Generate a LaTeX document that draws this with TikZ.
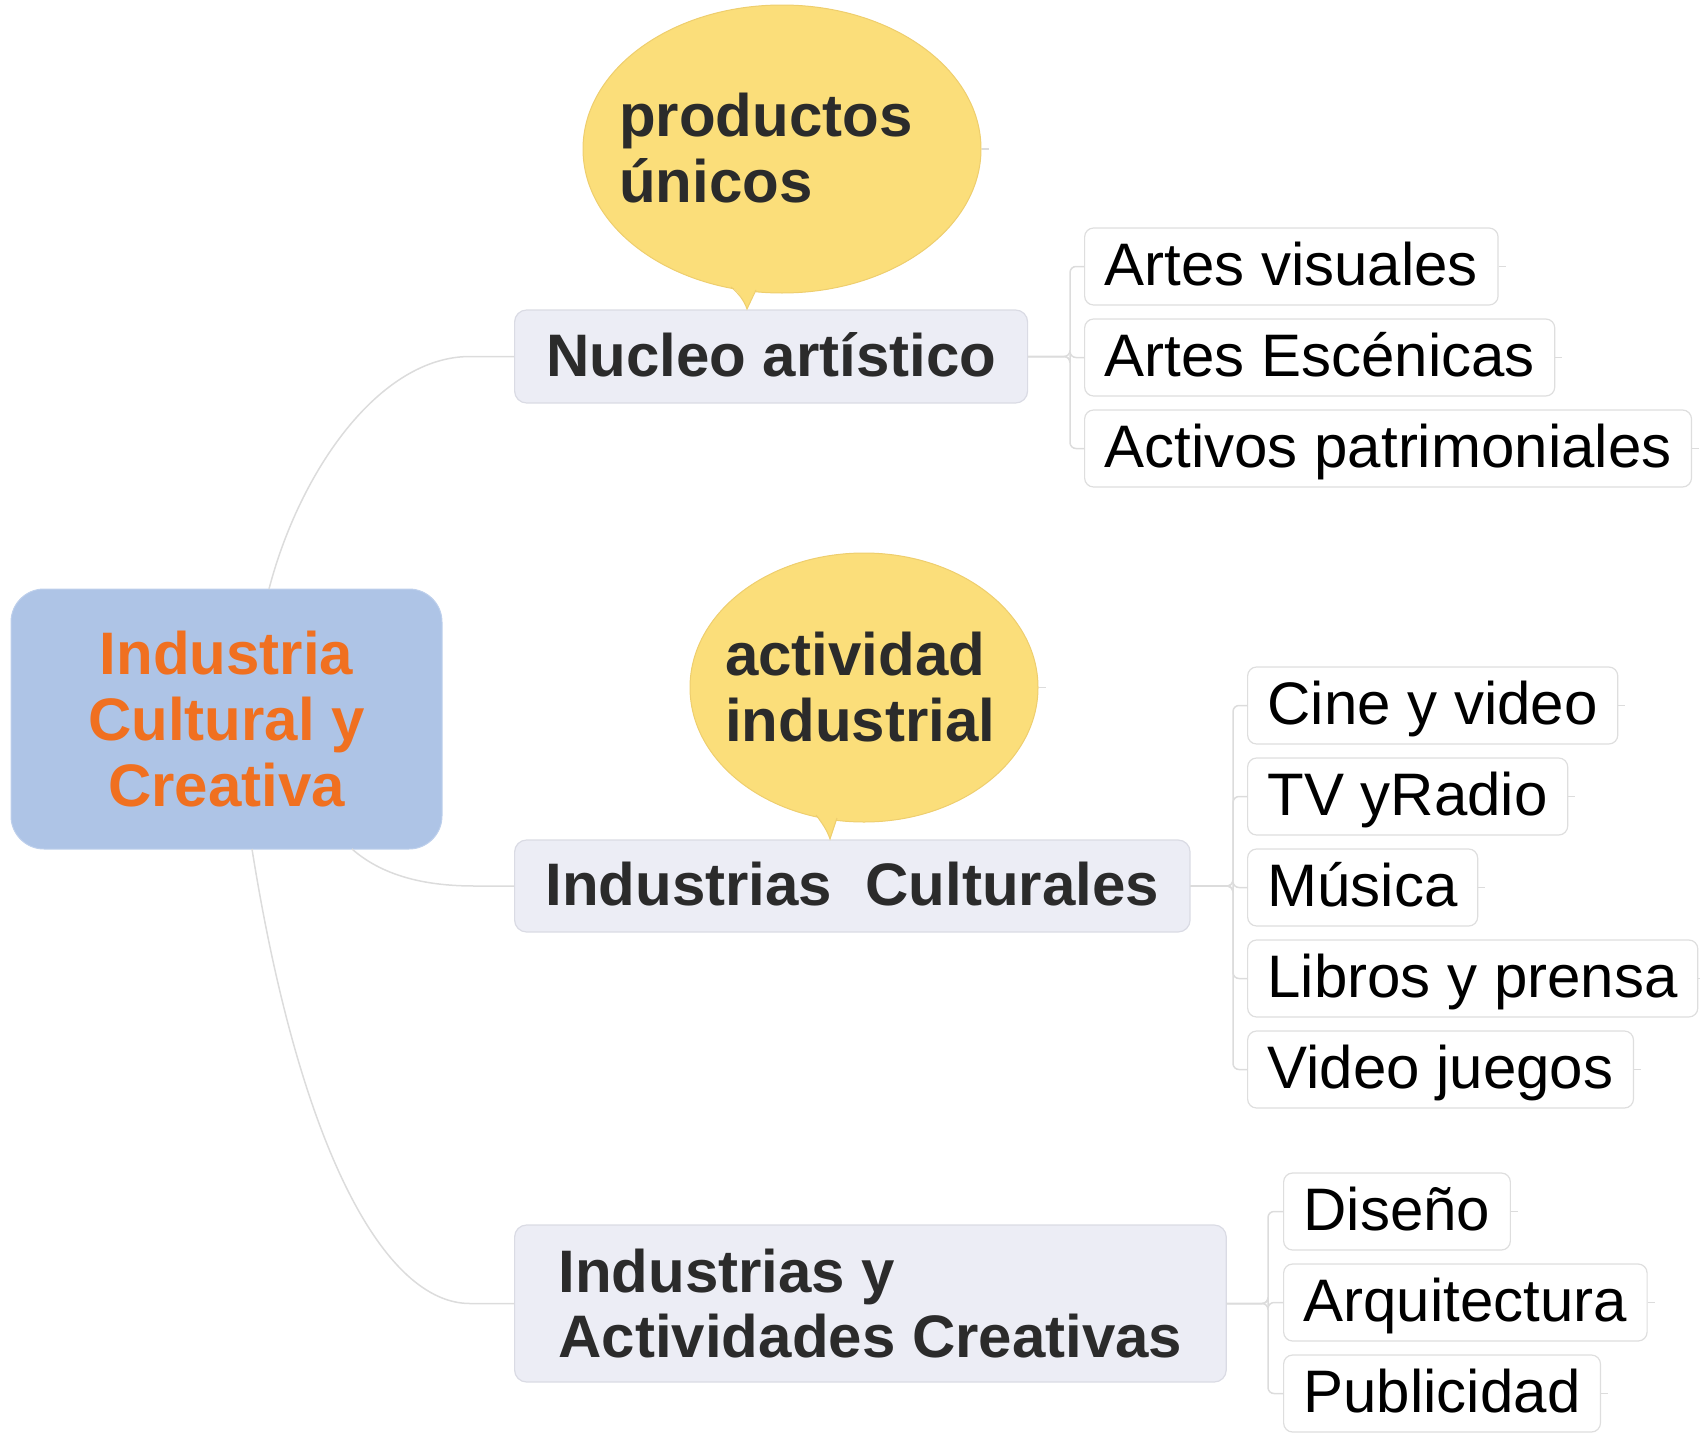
\documentclass[tikz,border=0pt]{standalone}
\usepackage{fontspec}
\setmainfont{Liberation Sans}
\usetikzlibrary{shapes.geometric}
\definecolor{rootfill}{RGB}{174,196,230}
\definecolor{rootline}{RGB}{190,208,236}
\definecolor{orangetext}{RGB}{240,112,32}
\definecolor{bubfill}{RGB}{251,222,122}
\definecolor{bubline}{RGB}{238,206,110}
\definecolor{branchfill}{RGB}{236,237,245}
\definecolor{branchline}{RGB}{218,219,228}
\definecolor{leafline}{RGB}{222,222,222}
\definecolor{connline}{RGB}{220,220,220}
\definecolor{darktext}{RGB}{43,43,43}
\tikzset{
  rootbox/.style={draw=rootline, fill=rootfill, rounded corners=33pt, line width=1pt,
    minimum width=431pt, minimum height=260pt, inner sep=0pt, align=center,
    font=\bfseries\fontsize{60}{66}\selectfont, text=orangetext},
  branchbox/.style={draw=branchline, fill=branchfill, rounded corners=12pt, line width=1.2pt,
    inner ysep=0pt, anchor=west, align=left,
    font=\bfseries\fontsize{60}{65}\selectfont, text=darktext},
  leafbox/.style={draw=leafline, fill=white, rounded corners=9pt, line width=1.2pt,
    inner xsep=20pt, inner ysep=0pt, minimum height=77pt, text height=43pt, text depth=6pt,
    anchor=west, font=\fontsize{60}{65}\selectfont, text=black},
  bubble/.style={ellipse, fill=bubfill, draw=bubline, line width=1pt, inner sep=0pt},
  bubtext/.style={anchor=west, inner sep=0pt, align=left,
    font=\bfseries\fontsize{60}{66}\selectfont, text=darktext},
  conn/.style={draw=connline, line width=1.5pt},
  stub/.style={draw=connline, line width=1.2pt},
}
\begin{document}
\begin{tikzpicture}[x=1pt,y=-1pt]
\useasboundingbox (0,0) rectangle (1700,1440);

% root
\node[rootbox] (root) at (226.5,719) {Industria\\Cultural y\\Creativa};

% branches
\node[branchbox, minimum width=513pt, minimum height=93pt, inner xsep=31pt,
      text height=43pt, text depth=4pt] (nuc) at (514,356.5) {Nucleo artístico};
\node[branchbox, minimum width=675pt, minimum height=92pt, inner xsep=31pt,
      text height=43pt, text depth=4pt] (cul) at (514,886) {Industrias\ \ Culturales};
\node[branchbox, minimum width=711pt, minimum height=157pt, inner xsep=44pt] (cre) at (514,1303.5)
      {Industrias y\\Actividades Creativas};

% bubbles
\node[bubble, minimum width=398pt, minimum height=288pt] (b1) at (782,149) {};
\fill[bubfill] (729,283) .. controls (738,292) and (744,300) .. (747,309) -- (757,287) -- cycle;
\draw[bubline, line width=1pt] (731,287) .. controls (738,293) and (744,300) .. (747,309) -- (756,290);
\node[bubtext] (b1t) at (619,148) {productos\\únicos};

\node[bubble, minimum width=348pt, minimum height=269pt] (b2) at (864,687.5) {};
\fill[bubfill] (814,812) .. controls (822,822) and (827,830) .. (830,839) -- (838,815) -- cycle;
\draw[bubline, line width=1pt] (816,815) .. controls (822,823) and (827,830) .. (830,839) -- (837,818);
\node[bubtext] (b2t) at (725,687) {actividad\\industrial};

% bubble stubs
\draw[stub] (b1.east) -- ++(7,0);
\draw[stub] (b2.east) -- ++(7,0);

% leaves of Nucleo
\node[leafbox] (l11) at (1084,266.5) {Artes visuales};
\node[leafbox] (l12) at (1084,357.5) {Artes Escénicas};
\node[leafbox] (l13) at (1084,448.5) {Activos patrimoniales};

% leaves of Culturales
\node[leafbox] (l21) at (1247,705.5) {Cine y video};
\node[leafbox] (l22) at (1247,796.5) {TV yRadio};
\node[leafbox] (l23) at (1247,887.5) {Música};
\node[leafbox] (l24) at (1247,978.5) {Libros y prensa};
\node[leafbox] (l25) at (1247,1069.5) {Video juegos};

% leaves of Creativas
\node[leafbox] (l31) at (1283,1211.5) {Diseño};
\node[leafbox] (l32) at (1283,1302.5) {Arquitectura};
\node[leafbox] (l33) at (1283,1393.5) {Publicidad};

% root connectors
\coordinate (r1) at (269,589);
\coordinate (r2) at (352,849);
\coordinate (r3) at (252,849);
\draw[conn] (r1) .. controls (300,470) and (380,356.5) .. (470,356.5) -- (nuc.west);
\draw[conn] (r2) .. controls (385,878) and (430,886) .. (475,886) -- (cul.west);
\draw[conn] (r3) .. controls (300,1150) and (385,1303.5) .. (470,1303.5) -- (cre.west);

% bracket connectors
\foreach \l in {l11,l12,l13}{
  \draw[conn, rounded corners=6pt] (nuc.east) -- (1070,356.5) |- (\l.west);
}
\foreach \l in {l21,l22,l23,l24,l25}{
  \draw[conn, rounded corners=6pt] (cul.east) -- (1233,886) |- (\l.west);
}
\foreach \l in {l31,l32,l33}{
  \draw[conn, rounded corners=6pt] (cre.east) -- (1268,1303.5) |- (\l.west);
}

% leaf stubs
\foreach \l in {l11,l12,l13,l21,l22,l23,l24,l25,l31,l32,l33}{
  \draw[stub] (\l.east) -- ++(7,0);
}
\end{tikzpicture}
\end{document}
